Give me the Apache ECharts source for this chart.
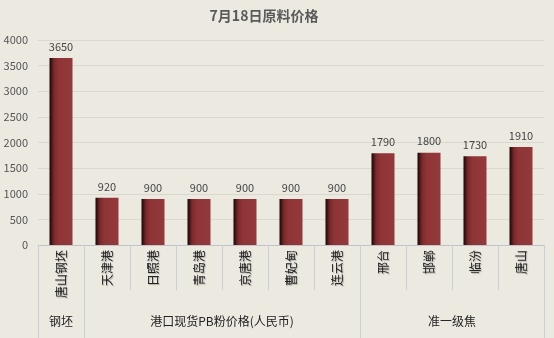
<!DOCTYPE html>
<html>
<head>
<meta charset="utf-8">
<script src="https://cdn.jsdelivr.net/npm/echarts@6/dist/echarts.min.js"></script>
<style>
  html, body { margin: 0; padding: 0; background: #ECE9E0; }
  #chart { width: 554px; height: 338px; }
</style>
</head>
<body>
<div id="chart"></div>
<script>
// Raw material prices, 18 July
const categories = ['唐山钢坯', '天津港', '日照港', '青岛港', '京唐港', '曹妃甸', '连云港', '邢台', '邯郸', '临汾', '唐山'];
const prices = [3650, 920, 900, 900, 900, 900, 900, 1790, 1800, 1730, 1910];
const groupNames = ['钢坯', '港口现货PB粉价格(人民币)', '准一级焦'];
const groupSizes = [1, 6, 4];
const yTicks = [0, 500, 1000, 1500, 2000, 2500, 3000, 3500, 4000];

// group boundaries and centres in category units
const groupEdges = [0];
groupSizes.forEach(s => groupEdges.push(groupEdges[groupEdges.length - 1] + s));
const groupCentres = groupSizes.map((s, i) => groupEdges[i] + s / 2);

const font = '"Noto Sans CJK SC", "Noto Sans", sans-serif';
const chart = echarts.init(document.getElementById('chart'));

chart.setOption({
  backgroundColor: '#ECE9E0',
  animation: false,
  title: {
    text: '7月18日原料价格',
    left: 259, top: 4, textAlign: 'center',
    textStyle: { fontFamily: font, fontSize: 14, fontWeight: 'bold', color: '#5a5a5a' }
  },
  grid: { left: 38, right: 10, top: 40, bottom: 93 },
  yAxis: {
    type: 'value',
    min: yTicks[0], max: yTicks[yTicks.length - 1], interval: 500,
    axisLine: { show: false },
    axisTick: { show: false },
    axisLabel: { margin: 10, fontFamily: font, fontSize: 11, color: '#555', formatter: v => String(v) },
    splitLine: { lineStyle: { color: '#DAD7CF', width: 1 } }
  },
  xAxis: [
    {
      type: 'category',
      data: categories,
      position: 'bottom',
      axisLine: { lineStyle: { color: '#BFC4CC', width: 1 } },
      axisTick: { show: true, interval: 0, length: 45, lineStyle: { color: '#C9CED6' } },
      axisLabel: {
        interval: 0, rotate: 90, margin: 5,
        fontFamily: font, fontSize: 12, color: '#222',
        textShadowColor: 'rgba(0,0,0,0.25)', textShadowBlur: 1, textShadowOffsetX: 1, textShadowOffsetY: 1
      }
    },
    {
      type: 'value',
      position: 'bottom',
      min: 0, max: categories.length,
      axisLine: { show: false },
      splitLine: { show: false },
      axisTick: { show: true, customValues: groupEdges, length: 93, lineStyle: { color: '#C9CED6' } },
      axisLabel: {
        customValues: groupCentres,
        margin: 70,
        fontFamily: font, fontSize: 12, color: '#222',
        formatter: v => groupNames[groupCentres.indexOf(v)] || ''
      }
    }
  ],
  series: [{
    type: 'bar',
    data: prices,
    barWidth: '50%',
    itemStyle: {
      color: new echarts.graphic.LinearGradient(0, 0, 1, 0, [
        { offset: 0, color: '#1a0606' },
        { offset: 0.2, color: '#7a2a2c' },
        { offset: 0.4, color: '#8f3538' },
        { offset: 1, color: '#93393b' }
      ])
    },
    label: {
      show: true, position: 'top', distance: 6,
      fontFamily: font, fontSize: 11, color: '#444'
    }
  }]
});
</script>
</body>
</html>
